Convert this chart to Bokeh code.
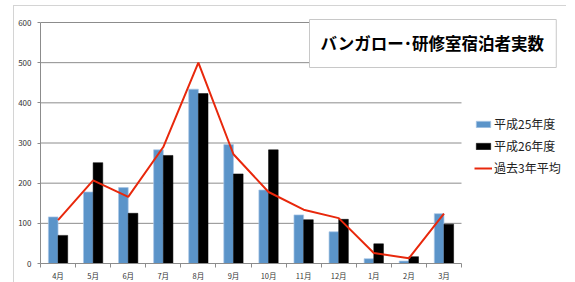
from bokeh.plotting import figure
from bokeh.models import (Range1d, FixedTicker, Legend, LegendItem, Label,
                          ColumnDataSource)
from bokeh.embed import file_html
from bokeh.resources import INLINE

months = ["4月", "5月", "6月", "7月", "8月", "9月", "10月", "11月", "12月", "1月", "2月", "3月"]
h25 = [116, 178, 189, 283, 434, 296, 183, 121, 79, 12, 6, 124]
h26 = [70, 251, 125, 269, 423, 223, 283, 109, 110, 49, 17, 98]
avg3 = [108, 207, 166, 290, 500, 272, 178, 134, 113, 26, 13, 124]
y_ticks = [0, 100, 200, 300, 400, 500, 600]
title_text = "バンガロー･研修室宿泊者実数"
series_names = ["平成25年度", "平成26年度", "過去3年平均"]

FONT = "Noto Sans CJK JP"
BLUE = "#5b94c9"
RED = "#e8280c"
GRID = "#8c8c8c"
FRAME_LINE = "#d4d4d4"

n = len(months)
y_max = y_ticks[-1]
centers = [i + 0.5 for i in range(n)]
bw = 0.275

# plot-area geometry: the axes occupy 421 x 241 px of a larger frame
FRAME_W, FRAME_H = 535, 255
AX_W, AX_H = 421, 241
x_end = n * FRAME_W / AX_W
y_end = y_max * FRAME_H / AX_H

src = ColumnDataSource(dict(
    x25=[c - bw / 2 for c in centers],
    x26=[c + bw / 2 for c in centers],
    xc=centers, h25=h25, h26=h26, avg=avg3))

grid_src = ColumnDataSource(dict(
    y=y_ticks[1:], x0=[0] * (len(y_ticks) - 1), x1=[n] * (len(y_ticks) - 1)))

p = figure(frame_width=FRAME_W, frame_height=FRAME_H,
           output_backend="svg", toolbar_location=None,
           x_range=Range1d(0, x_end), y_range=Range1d(0, y_end),
           min_border_left=40, min_border_right=0, min_border_top=8,
           min_border_bottom=19)
p.outline_line_color = None
p.background_fill_color = "white"
p.border_fill_alpha = 0
p.styles = {
    "background-color": "white",
    "background-image": f"linear-gradient({FRAME_LINE},{FRAME_LINE}), linear-gradient({FRAME_LINE},{FRAME_LINE})",
    "background-size": "1px 290px, 553px 1px",
    "background-position": "13px 5px, 13px 5px",
    "background-repeat": "no-repeat",
}
p.xgrid.grid_line_color = None
p.ygrid.grid_line_color = None

p.segment(x0="x0", x1="x1", y0="y", y1="y", source=grid_src,
          line_color=GRID, line_width=1)

r25 = p.vbar(x="x25", top="h25", width=bw, source=src, fill_color=BLUE,
             line_color="#a9c6e6", line_width=0.7)
r26 = p.vbar(x="x26", top="h26", width=bw, source=src, fill_color="black",
             line_color="black", line_width=0.5)
rl = p.line(x="xc", y="avg", source=src, line_color=RED, line_width=2)

p.yaxis.ticker = FixedTicker(ticks=y_ticks)
p.yaxis.bounds = (0, y_max)
p.yaxis.axis_line_color = GRID
p.yaxis.major_tick_line_color = GRID
p.yaxis.major_tick_out = 3
p.yaxis.major_tick_in = 0
p.yaxis.minor_tick_line_color = None
p.yaxis.major_label_standoff = 6
p.yaxis.major_label_text_font = FONT
p.yaxis.major_label_text_font_size = "8px"
p.yaxis.major_label_text_color = "#333333"

p.xaxis.ticker = FixedTicker(ticks=centers, minor_ticks=list(range(n + 1)))
p.xaxis.bounds = (0, n)
p.xaxis.major_label_overrides = {c: m for c, m in zip(centers, months)}
p.xaxis.axis_line_color = GRID
p.xaxis.major_tick_line_color = None
p.xaxis.minor_tick_line_color = GRID
p.xaxis.minor_tick_out = 4
p.xaxis.minor_tick_in = 0
p.xaxis.major_label_standoff = 0
p.xaxis.major_label_text_font = FONT
p.xaxis.major_label_text_font_size = "7.5px"
p.xaxis.major_label_text_color = "#333333"

legend = Legend(items=[LegendItem(label=series_names[0], renderers=[r25]),
                       LegendItem(label=series_names[1], renderers=[r26]),
                       LegendItem(label=series_names[2], renderers=[rl])],
                location=(434, 87), orientation="vertical")
legend.label_text_font = FONT
legend.label_text_font_size = "12px"
legend.label_text_color = "#222222"
legend.glyph_width = 18
legend.glyph_height = 8
legend.label_height = 16
legend.spacing = 5
legend.padding = 2
legend.margin = 0
legend.label_standoff = 2
legend.border_line_color = None
legend.background_fill_alpha = 0
p.add_layout(legend)

title = Label(x=269, y=220, x_units="screen", y_units="screen", text=title_text,
              text_font=FONT, text_font_size="16.5px", text_font_style="bold",
              text_color="black", text_align="left", text_baseline="middle",
              border_line_color="#c8c8c8", border_line_width=1,
              background_fill_color="white",
              padding=(11, 13, 11, 13))
p.add_layout(title)

open("out.html", "w").write(file_html(p, INLINE))
